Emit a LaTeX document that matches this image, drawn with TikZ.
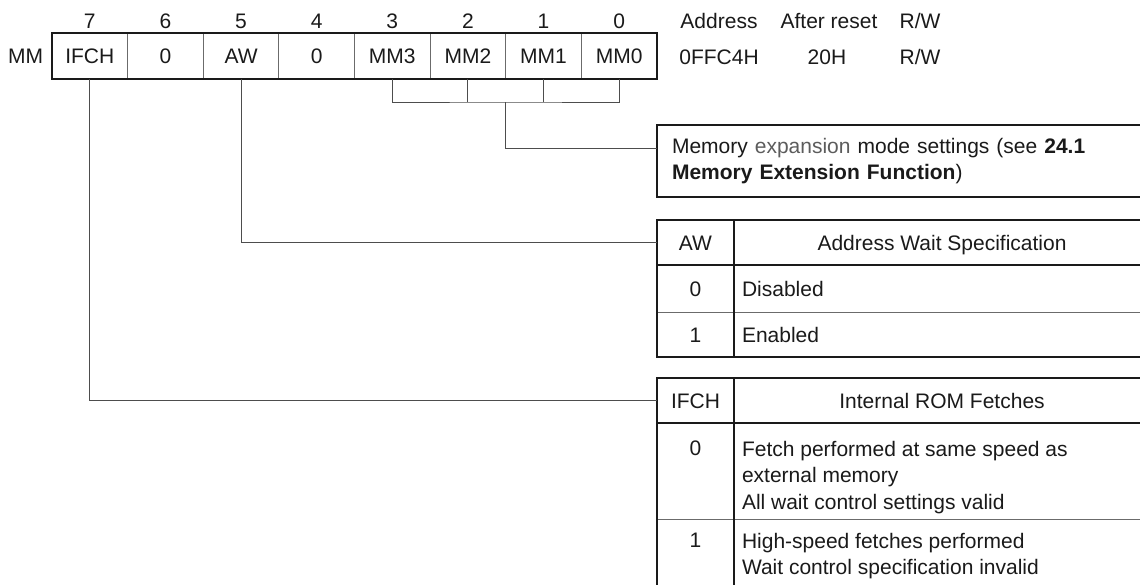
\documentclass[tikz,border=0pt]{standalone}
\usepackage{fontspec}
\setmainfont{Liberation Sans}
\usetikzlibrary{positioning,calc}
\definecolor{ink}{HTML}{1A1A1A}
\definecolor{wiregray}{HTML}{4D4D4D}
\definecolor{rulegray}{HTML}{6B6B6B}
\definecolor{linkgray}{HTML}{5C5C5C}
\newcommand{\regfont}{\fontsize{10.5pt}{13.25pt}\selectfont}
\tikzset{
  lbl/.style={
    inner sep=0pt, outer sep=0pt, font=\regfont, text=ink,
    text height=7.5pt, text depth=0pt
  },
  bitcell/.style={lbl, draw=rulegray, line width=0.5pt,
    minimum width=37.81pt, minimum height=23pt},
  keycell/.style={lbl, minimum width=38.5pt},
  headcell/.style={lbl, minimum width=208pt, minimum height=22.5pt},
  frame/.style={draw=ink, line width=1.4pt},
  rowrule/.style={draw=rulegray, line width=0.5pt},
  wire/.style={draw=wiregray, line width=0.5pt},
  memobox/.style={
    frame, outer sep=0pt, inner xsep=7.5pt, inner ysep=0pt,
    minimum height=36pt, text width=231.5pt,
    align=left, font=\regfont, text=ink
  },
  cellnote/.style={inner sep=0pt, outer sep=0pt, font=\regfont, text=ink, align=left}
}
\begin{document}
\begin{tikzpicture}[x=0.5pt, y=-0.5pt]
  \useasboundingbox (0,0) rectangle (1140,584);
  \clip (0,0) rectangle (1140,584);
  \foreach \lbl [count=\i from 0] in {IFCH,0,AW,0,MM3,MM2,MM1,MM0} {
    \pgfmathtruncatemacro{\bit}{7-\i}
    \node[bitcell] (bit\bit) at ({52+75.625*(\i+0.5)},56) {\lbl};
    \node[lbl] (num\bit) at ({52+75.625*(\i+0.5)},21) {\bit};
  }
  \draw[frame] (bit7.north west) rectangle (bit0.south east);
  \node[lbl, left=4.5pt of bit7] (regname) {MM};
  \node[lbl] (addrhead) at (719,21) {Address};
  \node[lbl] (resethead) at (829,21) {After reset};
  \node[lbl] (rwhead) at (920,21) {R/W};
  \node[lbl] (addr) at (719,57) {0FFC4H};
  \node[lbl] (reset) at (827,57) {20H};
  \node[lbl] (rw) at (920,57) {R/W};

  \node[memobox, anchor=north west] (memo) at (657,125)
    {Memory \textcolor{linkgray}{expansion} mode settings (see \textbf{24.1}\\\textbf{Memory Extension Function})};

  \node[keycell, minimum height=22.5pt, anchor=north west] (awkey) at (657,220) {AW};
  \node[headcell, anchor=west] (awhead) at (awkey.east) {Address Wait Specification};
  \node[keycell, minimum height=23.5pt, below=0pt of awkey] (awkey0) {0};
  \node[keycell, minimum height=22.5pt, below=0pt of awkey0] (awkey1) {1};
  \node[lbl, anchor=west] (aw0) at ([xshift=4pt]awkey0.east) {Disabled};
  \node[lbl, anchor=west] (aw1) at ([xshift=4pt]awkey1.east) {Enabled};
  \draw[rowrule] (awkey0.south west) -- (awkey0.south -| awhead.east);
  \draw[frame] (awkey.north west) rectangle (awhead.east |- awkey1.south);
  \draw[frame] (awkey.south west) -- (awhead.south east);
  \draw[frame] (awkey.north east) -- (awkey1.south east);

  \node[keycell, minimum height=22.5pt, anchor=north west] (ifchkey) at (657,378) {IFCH};
  \node[headcell, anchor=west] (ifchhead) at (ifchkey.east) {Internal ROM Fetches};
  \coordinate (ifchrow1) at (657,519);
  \coordinate (ifchend) at (657,600);
  \node[lbl] (ifchkey0) at (695.5,448) {0};
  \node[lbl] (ifchkey1) at (695.5,540) {1};
  \node[cellnote, anchor=north west] (ifch0) at (742,441)
    {Fetch performed at same speed as\\external memory\\All wait control settings valid};
  \node[cellnote, anchor=north west] (ifch1) at (742,533)
    {High-speed fetches performed\\Wait control specification invalid};
  \draw[rowrule] (ifchrow1) -- (ifchrow1 -| ifchhead.east);
  \draw[frame] (ifchkey.north west) rectangle (ifchhead.east |- ifchend);
  \draw[frame] (ifchkey.south west) -- (ifchhead.south east);
  \draw[frame] (ifchkey.north east) -- (ifchkey.north east |- ifchend);

  \coordinate (mmjoin) at ($(bit2.south east)+(0,23)$);
  \coordinate (memotap) at ($(memo.north west)+(0,23)$);
  \draw[wire] (bit3.south) |- (mmjoin) -| (bit0.south);
  \draw[wire] (bit2.south) -- (bit2.south |- mmjoin);
  \draw[wire] (bit1.south) -- (bit1.south |- mmjoin);
  \draw[wire] (mmjoin) |- (memotap);
  \draw[wire] (bit5.south) |- (awkey.west);
  \draw[wire] (bit7.south) |- (ifchkey.west);
\end{tikzpicture}
\end{document}
